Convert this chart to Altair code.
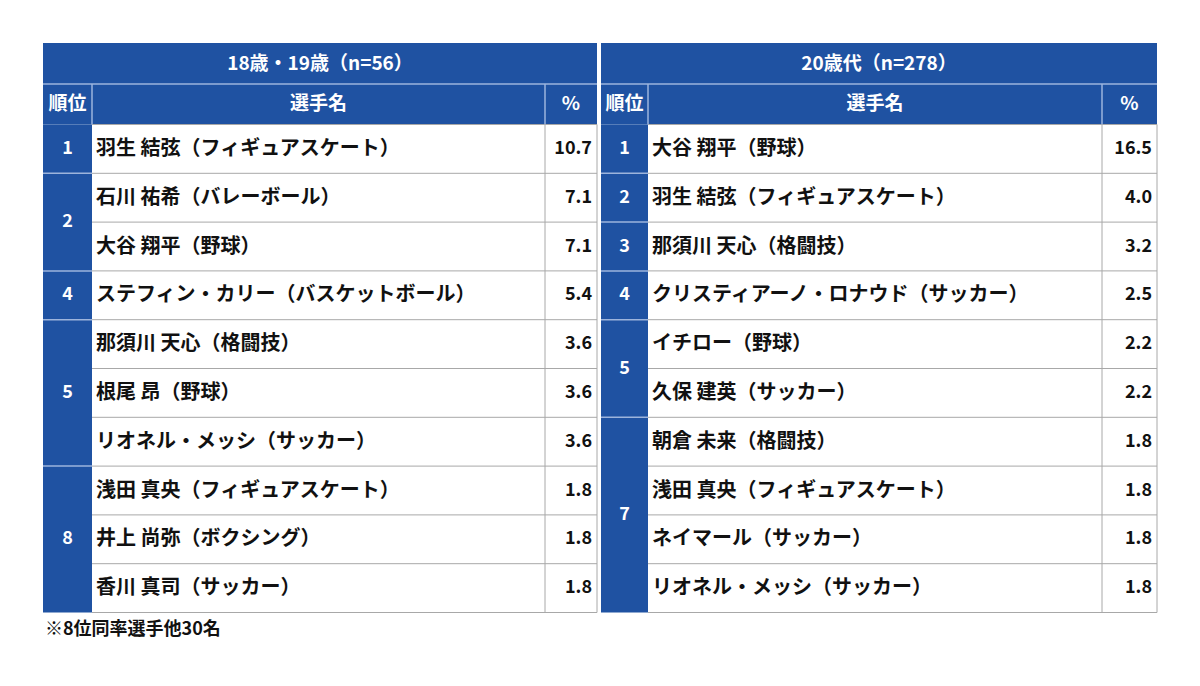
import altair as alt
import pandas as pd

# ---------------- data ----------------
left_title = "18歳・19歳（n=56）"
right_title = "20歳代（n=278）"
col_headers = ["順位", "選手名", "%"]

left_ranks = [1, 2, 2, 4, 5, 5, 5, 8, 8, 8]
left_names = ["羽生 結弦（フィギュアスケート）", "石川 祐希（バレーボール）", "大谷 翔平（野球）",
              "ステフィン・カリー（バスケットボール）", "那須川 天心（格闘技）", "根尾 昂（野球）",
              "リオネル・メッシ（サッカー）", "浅田 真央（フィギュアスケート）", "井上 尚弥（ボクシング）",
              "香川 真司（サッカー）"]
left_pct = [10.7, 7.1, 7.1, 5.4, 3.6, 3.6, 3.6, 1.8, 1.8, 1.8]

right_ranks = [1, 2, 3, 4, 5, 5, 7, 7, 7, 7]
right_names = ["大谷 翔平（野球）", "羽生 結弦（フィギュアスケート）", "那須川 天心（格闘技）",
               "クリスティアーノ・ロナウド（サッカー）", "イチロー（野球）", "久保 建英（サッカー）",
               "朝倉 未来（格闘技）", "浅田 真央（フィギュアスケート）", "ネイマール（サッカー）",
               "リオネル・メッシ（サッカー）"]
right_pct = [16.5, 4.0, 3.2, 2.5, 2.2, 2.2, 1.8, 1.8, 1.8, 1.8]

footnote = "※8位同率選手他30名"

# ---------------- layout ----------------
FONT = "Noto Sans CJK JP"
BLUE = "#1F52A2"
GRID = "#A8A8A8"
LIGHT = "#9DB4DC"
TABLES = {"left": (43, 92, 545, 597), "right": (601, 648, 1102, 1157)}
ROW_H = 48.8
Y0 = 124.5
H1_TOP = (43 - Y0) / ROW_H
H_MID = (84 - Y0) / ROW_H
N = 10

xs = alt.Scale(domain=[8, 1192], nice=False, zero=False)
ys = alt.Scale(domain=[(8 - Y0) / ROW_H, (678 - Y0) / ROW_H], nice=False, zero=False, reverse=True)

sides = {
    "left": (left_title, left_ranks, left_names, left_pct),
    "right": (right_title, right_ranks, right_names, right_pct),
}

blue_rows, light_rows, grid_rows = [], [], []
title_rows, head_rows, rank_rows, name_rows, pct_rows = [], [], [], [], []

for side, (title, ranks, names, pcts) in sides.items():
    x0, x1, x2, x3 = TABLES[side]
    blue_rows.append(dict(x=x0, x2=x3, y=H1_TOP, y2=0))
    blue_rows.append(dict(x=x0, x2=x1, y=0, y2=N))
    # light separators in blue areas
    light_rows.append(dict(x=x0, x2=x3, y=H_MID, y2=H_MID))
    light_rows.append(dict(x=x1, x2=x1, y=H_MID, y2=0))
    light_rows.append(dict(x=x2, x2=x2, y=H_MID, y2=0))
    # rank groups
    start = 0
    for i in range(1, N + 1):
        if i == N or ranks[i] != ranks[start]:
            rank_rows.append(dict(x=(x0 + x1) / 2, y=(start + i) / 2, text=str(ranks[start])))
            if i < N:
                light_rows.append(dict(x=x0, x2=x1, y=i, y2=i))
            start = i
    # gray grid
    for i in range(0, N + 1):
        grid_rows.append(dict(x=x1, x2=x3, y=i, y2=i))
    grid_rows.append(dict(x=x2, x2=x2, y=0, y2=N))
    grid_rows.append(dict(x=x3, x2=x3, y=0, y2=N))
    # texts
    title_rows.append(dict(x=(x0 + x3) / 2, y=(H1_TOP + H_MID) / 2, text=title))
    for (a, b), t in zip([(x0, x1), (x1, x2), (x2, x3)], col_headers):
        head_rows.append(dict(x=(a + b) / 2, y=H_MID / 2, text=t))
    for i, (nm, p) in enumerate(zip(names, pcts)):
        name_rows.append(dict(x=x1 + 4, y=i + 0.5, text=nm))
        pct_rows.append(dict(x=x3 - 5, y=i + 0.5, text=f"{p:.1f}"))

foot_rows = [dict(x=45, y=(630 - Y0) / ROW_H, text=footnote)]


def enc_rect():
    return dict(
        x=alt.X("x:Q", scale=xs, axis=None), x2="x2:Q",
        y=alt.Y("y:Q", scale=ys, axis=None), y2="y2:Q",
    )


def enc_text():
    return dict(
        x=alt.X("x:Q", scale=xs, axis=None),
        y=alt.Y("y:Q", scale=ys, axis=None),
        text="text:N",
    )


blue = alt.Chart(pd.DataFrame(blue_rows)).mark_rect(color=BLUE).encode(**enc_rect())
grid = alt.Chart(pd.DataFrame(grid_rows)).mark_rule(color=GRID, strokeWidth=1).encode(**enc_rect())
light = alt.Chart(pd.DataFrame(light_rows)).mark_rule(color=LIGHT, strokeWidth=1.5).encode(**enc_rect())

titles = alt.Chart(pd.DataFrame(title_rows)).mark_text(
    font=FONT, fontWeight="bold", fontSize=19, color="white", align="center", baseline="middle"
).encode(**enc_text())
heads = alt.Chart(pd.DataFrame(head_rows)).mark_text(
    font=FONT, fontWeight="bold", fontSize=19, color="white", align="center", baseline="middle"
).encode(**enc_text())
ranks_t = alt.Chart(pd.DataFrame(rank_rows)).mark_text(
    font=FONT, fontWeight="bold", fontSize=18, color="white", align="center", baseline="middle"
).encode(**enc_text())
names_t = alt.Chart(pd.DataFrame(name_rows)).mark_text(
    font=FONT, fontWeight="bold", fontSize=20, color="#111111", align="left", baseline="middle"
).encode(**enc_text())
pcts_t = alt.Chart(pd.DataFrame(pct_rows)).mark_text(
    font=FONT, fontWeight="bold", fontSize=18, color="#111111", align="right", baseline="middle"
).encode(**enc_text())
foot_t = alt.Chart(pd.DataFrame(foot_rows)).mark_text(
    font=FONT, fontWeight="bold", fontSize=18, color="#111111", align="left", baseline="middle"
).encode(**enc_text())

chart = alt.layer(blue, grid, light, titles, heads, ranks_t, names_t, pcts_t, foot_t).properties(
    width=1184, height=670, padding=0, autosize=alt.AutoSizeParams(type="none")
).configure_view(stroke="transparent")

chart.save("out.html", embed_options={"renderer": "svg", "actions": False})
